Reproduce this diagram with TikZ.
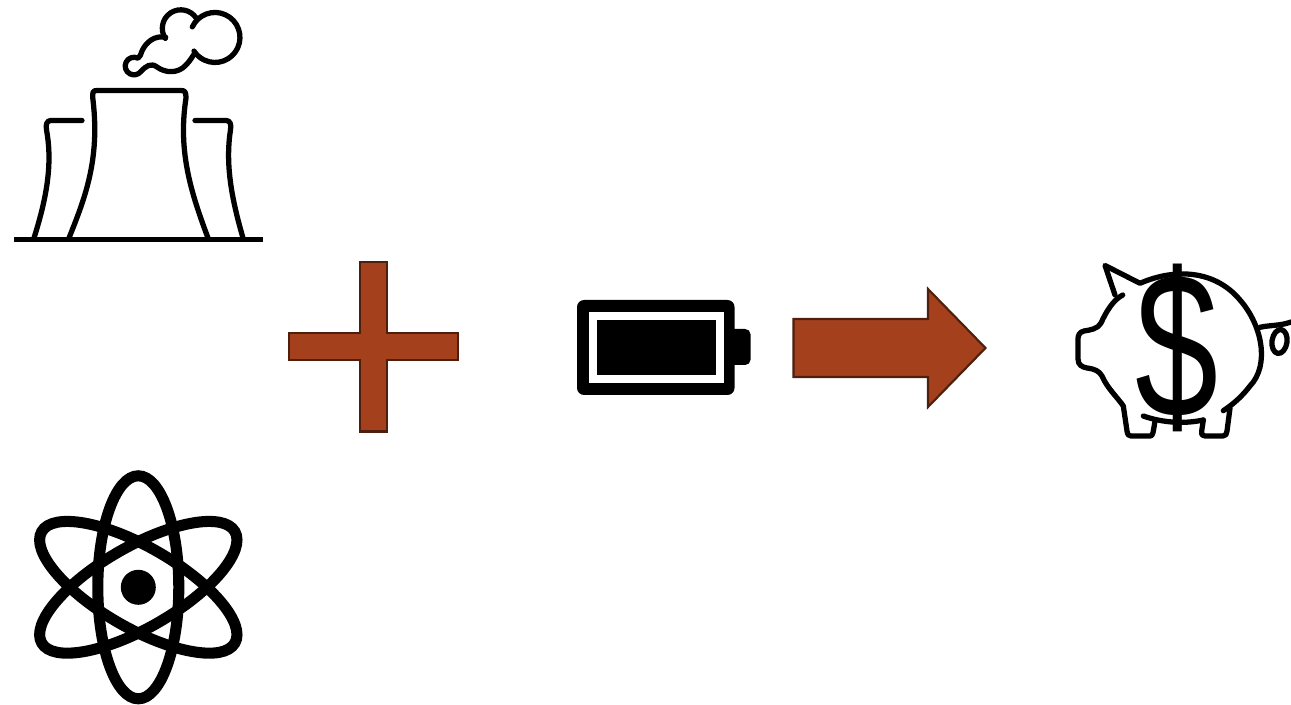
\documentclass[tikz,border=0pt]{standalone}
\usepackage{fontspec}
\newfontfamily\dollarfont{Liberation Sans}
\definecolor{rustfill}{HTML}{A5401D}
\definecolor{rustline}{HTML}{4F1F0E}
\tikzset{
  iconline/.style={line width=3pt, line cap=round, line join=round},
  rustshape/.style={fill=rustfill, draw=rustline, line width=1.2pt, line join=miter},
  orbit/.style={line width=6.3pt, draw=black}
}
\begin{document}
\begin{tikzpicture}[x=0.02cm, y=-0.02cm]
  \useasboundingbox (0,0) rectangle (1291,705);

  % power plant
  \draw[line width=2.9pt] (14,239.5) -- (263,239.5);
  \draw[iconline] (69,238) .. controls (85,198) and (100,160) .. (93,100)
    .. controls (92,92) and (93,90.5) .. (97,90.5) -- (181,90.5)
    .. controls (185,90.5) and (186,92) .. (186,98)
    .. controls (178,150) and (190,190) .. (208,238);
  \draw[iconline] (34,238) .. controls (46,200) and (53,165) .. (46.5,130)
    .. controls (45.5,124) and (47,120.5) .. (51,120.5) -- (82,120.5);
  \draw[iconline] (195,120.5) -- (226,120.5)
    .. controls (230,120.5) and (231.5,124) .. (230.5,130)
    .. controls (225,165) and (232,200) .. (243,238);
  \draw[iconline] (192.3,26.9) arc [start angle=205, end angle=507, radius=25];
  \draw[iconline] (165.3,38.4) arc [start angle=147, end angle=326, radius=18.5];
  \draw[iconline] (165.7,37.3) .. controls (155,35) and (146,42) .. (142,51)
    .. controls (141,54) and (140,57) .. (138,58.2)
    arc [start angle=297, end angle=38, radius=8.8]
    .. controls (146,66) and (151,62.5) .. (157,67)
    .. controls (165,73) and (178,74) .. (186,65)
    .. controls (190,61) and (192,57) .. (195,53);

  % atom
  \draw[orbit] (138.3,587.3) ellipse [x radius=40.5, y radius=111.5];
  \draw[orbit, rotate around={60:(138.3,587.3)}] (138.3,587.3) ellipse [x radius=40.5, y radius=111.5];
  \draw[orbit, rotate around={-60:(138.3,587.3)}] (138.3,587.3) ellipse [x radius=40.5, y radius=111.5];
  \fill (138.3,587.3) circle [radius=17.5];

  % plus sign
  \draw[rustshape] (360,262) -- (387,262) -- (387,333) -- (458,333) -- (458,360) -- (387,360)
    -- (387,431.5) -- (360,431.5) -- (360,360) -- (289,360) -- (289,333) -- (360,333) -- cycle;

  % battery
  \fill[rounded corners=3pt] (725,329) rectangle (750.5,365);
  \fill[rounded corners=4pt] (577,300) rectangle (734.5,395);
  \fill[white] (589,312) rectangle (723.5,383);
  \fill (597,320) rectangle (715.5,375);

  % arrow
  \draw[rustshape] (793.5,319) -- (928,319) -- (928,289) -- (985.5,348) -- (928,407)
    -- (928,377) -- (793.5,377) -- cycle;

  % piggy bank
  \draw[iconline] (1115,295) -- (1105,265.5) -- (1140,283.3)
    .. controls (1175,268) and (1215,270) .. (1240,300)
    .. controls (1262,325) and (1270,365) .. (1250,386)
    .. controls (1243,395) and (1235,403) .. (1223.3,410.7);
  \draw[iconline] (1122.7,295) .. controls (1113,300) and (1106,312) .. (1101,323)
    .. controls (1098,329) and (1090,330) .. (1084,331)
    .. controls (1079,332) and (1078,336) .. (1078,339) -- (1078,359)
    .. controls (1078,365) and (1082,367) .. (1087,368)
    .. controls (1095,369) and (1099,371) .. (1102,376)
    .. controls (1107,388) and (1118,398) .. (1123.3,406) -- (1127,431)
    .. controls (1127.5,435) and (1129,436) .. (1131,436) -- (1150,436)
    .. controls (1153,436) and (1153,433) .. (1155,421);
  \draw[iconline] (1143.3,416) .. controls (1163,423) and (1185,424) .. (1203.3,420);
  \draw[iconline] (1203.3,420) -- (1201.7,431) .. controls (1201,435) and (1203,436) .. (1205,436) -- (1223,436)
    .. controls (1226,436) and (1226.5,434) .. (1227,431) -- (1230,408);
  \draw[iconline] (1260,327.3) .. controls (1270,325) and (1280,326) .. (1291,322);
  \draw[iconline, rotate around={-8:(1279.5,341.5)}] (1279.5,341.5) ellipse [x radius=7.5, y radius=12];
  \node[font=\dollarfont\fontsize{118}{118}\selectfont, inner sep=0pt, xscale=0.72] (dollar) at (1176.5,348) {\$};
\end{tikzpicture}
\end{document}
